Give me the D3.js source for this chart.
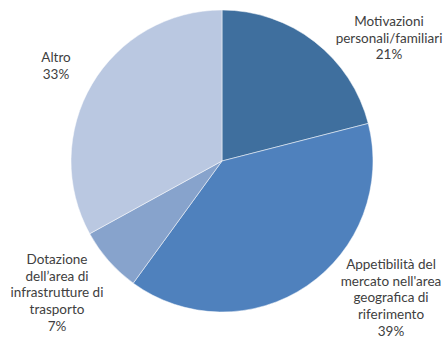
<!DOCTYPE html>
<html><head><meta charset="utf-8">
<script src="https://cdn.jsdelivr.net/npm/d3@7"></script>
<style>html,body{margin:0;padding:0;background:#fff;}</style>
</head><body>
<svg id="c" width="443" height="342"></svg>
<script>
const categories = ["Motivazioni personali/familiari", "Appetibilità del mercato nell'area geografica di riferimento", "Dotazione dell’area di infrastrutture di trasporto", "Altro"];
const values = [21, 39, 7, 33];
const labelLines = [
  ["Motivazioni", "personali/familiari", "21%"],
  ["Appetibilità del", "mercato nell'area", "geografica di", "riferimento", "39%"],
  ["Dotazione", "dell’area di", "infrastrutture di", "trasporto", "7%"],
  ["Altro", "33%"]
];
const colors = ["#3F6F9E", "#4F81BD", "#87A3CC", "#BAC8E1"];
const labelPos = [[389, 21], [391, 264], [57, 259], [56, 57]];

const svg = d3.select("#c");
const cx = 222, cy = 161, r = 151;
const pie = d3.pie().sort(null).value(d => d)(values);
const arc = d3.arc().innerRadius(0).outerRadius(r);
const g = svg.append("g").attr("transform", `translate(${cx},${cy})`);
g.selectAll("path").data(pie).join("path")
  .attr("d", arc).attr("fill", (d, i) => colors[i])
  .attr("stroke", "#fff").attr("stroke-width", 0.5);

const lh = 16.8;
labelLines.forEach((lines, i) => {
  const t = svg.append("text").attr("text-anchor", "middle")
    .attr("font-family", "Lato, 'Liberation Sans', sans-serif")
    .attr("font-size", 13.5).attr("fill", "#404040");
  lines.forEach((s, j) => {
    t.append("tspan").attr("x", labelPos[i][0]).attr("y", labelPos[i][1] + j * lh)
      .attr("dy", "0.35em").text(s);
  });
});
</script>
</body></html>
